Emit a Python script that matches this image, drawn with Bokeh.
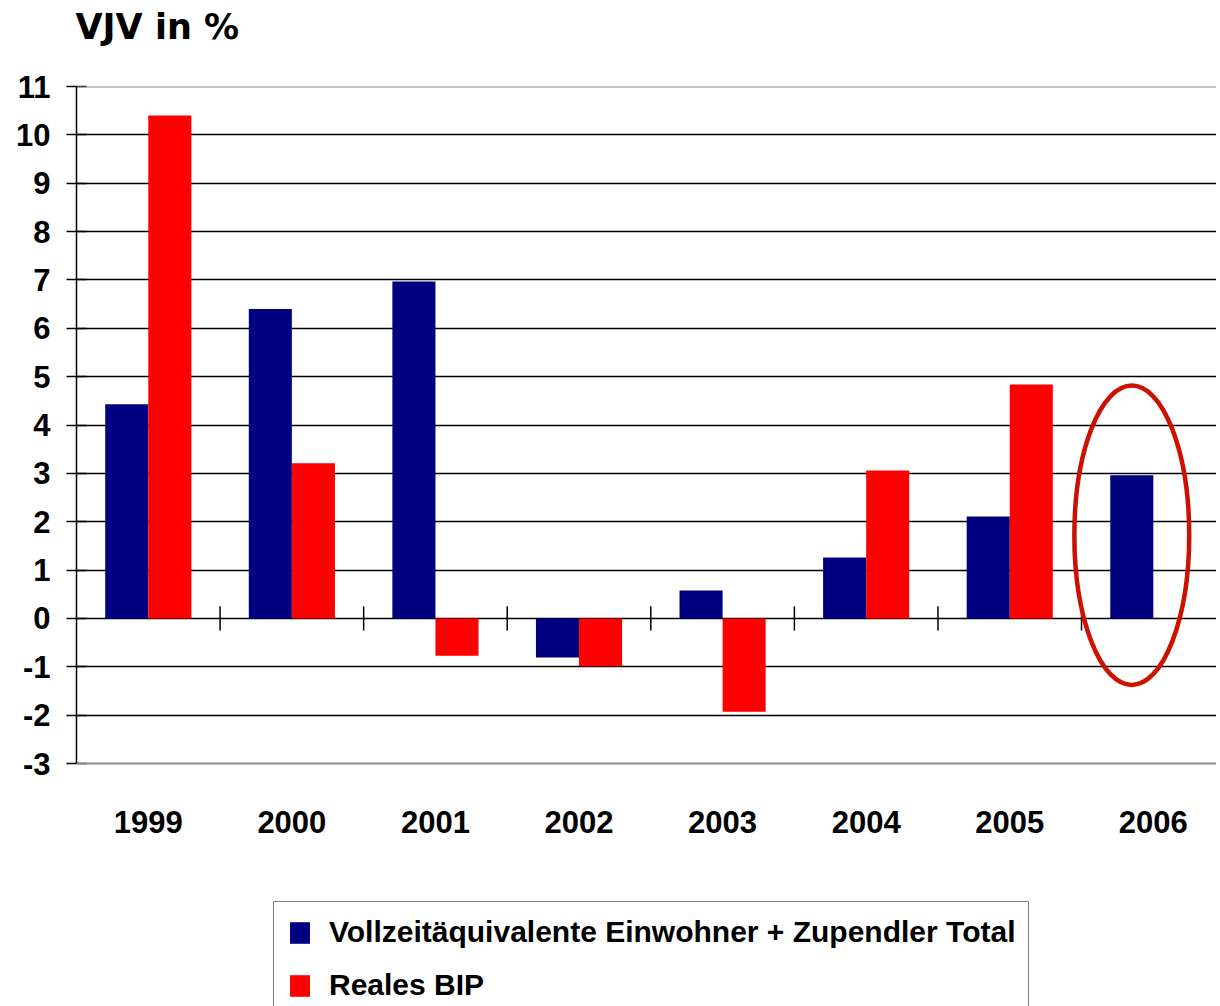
from bokeh.plotting import figure
from bokeh.models import (Range1d, FixedTicker, Span, Legend, LegendItem, ColumnDataSource,
                          LinearAxis, Title)
from bokeh.core.properties import value
from bokeh.embed import file_html
from bokeh.resources import INLINE

# ---- data ----
years = ["1999", "2000", "2001", "2002", "2003", "2004", "2005", "2006"]
vollzeit = [4.43, 6.40, 6.97, -0.81, 0.58, 1.26, 2.11, 2.96]
bip = [10.40, 3.21, -0.77, -0.99, -1.93, 3.06, 4.84, float("nan")]
y_ticks = list(range(-3, 12))
y_tick_labels = [str(t) for t in y_ticks]
title_text = "VJV in %"
series_names = ["Vollzeitäquivalente Einwohner + Zupendler Total", "Reales BIP"]
highlight_year = "2006"

BLUE = "#000080"
RED = "#FF0000"
FONT = "Liberation Sans"

# layout constants (pixels / data offsets, not data)
PX_PER_UNIT = 677 / 14.0
FRAME_H = 920
Y_BOTTOM = y_ticks[0] - (FRAME_H - 677) / PX_PER_UNIT
CAT_LABEL_Y = -4.2
BAR_W = 0.3

idx = list(range(len(years)))
src = ColumnDataSource(dict(
    x_blue=[i - BAR_W / 2 for i in idx],
    x_red=[i + BAR_W / 2 for i in idx],
    blue=vollzeit,
    red=bip,
))

p = figure(frame_width=1140, frame_height=FRAME_H, output_backend="svg", toolbar_location=None,
           x_range=Range1d(-0.5, 7.44), y_range=Range1d(Y_BOTTOM, y_ticks[-1]),
           x_axis_location=None,
           min_border_left=76, min_border_right=0, min_border_top=86,
           min_border_bottom=0)

# invisible spacer between title and plot area (added first -> nearest the plot)
spacer = LinearAxis(ticker=FixedTicker(ticks=[0]), axis_line_color=None,
                    major_tick_line_color=None, minor_tick_line_color=None,
                    major_tick_out=38, major_tick_in=0, minor_tick_out=0,
                    major_label_standoff=0, major_label_text_font_size="1px",
                    major_label_overrides={0: ""})
p.add_layout(spacer, "above")

title = Title(text=title_text, text_font="DejaVu Sans", text_font_style="bold",
              text_font_size="35px", align="left", offset=-1, standoff=4,
              text_color="black")
p.add_layout(title, "above")

p.outline_line_color = None
p.background_fill_color = "white"
p.border_fill_color = "white"

rb = p.vbar(x="x_blue", top="blue", bottom=0, width=BAR_W, source=src,
            fill_color=BLUE, line_color=None)
rr = p.vbar(x="x_red", top="red", bottom=0, width=BAR_W, source=src,
            fill_color=RED, line_color=None)

# grid
p.xgrid.visible = False
p.ygrid.ticker = FixedTicker(ticks=[t for t in y_ticks if y_ticks[0] < t < y_ticks[-1]])
p.ygrid.grid_line_color = "black"
p.ygrid.grid_line_width = 1.6
for yv in (y_ticks[0], y_ticks[-1]):
    p.add_layout(Span(location=yv, dimension="width", line_color="#8c8c8c", line_width=2))

# y axis
p.yaxis.ticker = FixedTicker(ticks=y_ticks)
p.yaxis.bounds = (y_ticks[0], y_ticks[-1])
p.yaxis.major_label_overrides = {t: s for t, s in zip(y_ticks, y_tick_labels)}
p.yaxis.axis_line_color = "black"
p.yaxis.axis_line_width = 1.5
p.yaxis.major_tick_in = 10
p.yaxis.major_tick_out = 10
p.yaxis.major_tick_line_width = 1.5
p.yaxis.minor_tick_line_color = None
p.yaxis.major_label_text_font = FONT
p.yaxis.major_label_text_font_style = "bold"
p.yaxis.major_label_text_font_size = "31px"
p.yaxis.major_label_text_color = "black"
p.yaxis.major_label_standoff = 16

# category labels
p.text(x=idx, y=[CAT_LABEL_Y] * len(idx), text=years,
       text_font=value(FONT), text_font_style="bold", text_font_size="31px",
       text_color="black", text_align="center", text_baseline="middle")

# category separator ticks crossing the zero line
sep = [i + 0.5 for i in idx[:-1]]
p.segment(x0=sep, x1=sep, y0=[-0.25] * len(sep), y1=[0.25] * len(sep),
          line_color="black", line_width=1.5)

# highlight ellipse around the 2006 bar
hi = years.index(highlight_year)
p.ellipse(x=[hi - BAR_W / 2], y=[1.72], width=0.80, height=6.19, fill_color=None,
          line_color="#CC1100", line_width=4.5)

legend = Legend(items=[LegendItem(label=series_names[0], renderers=[rb]),
                       LegendItem(label=series_names[1], renderers=[rr])],
                location=(197, -10))
legend.label_text_font = FONT
legend.label_text_font_style = "bold"
legend.label_text_font_size = "30px"
legend.label_text_color = "black"
legend.glyph_width = 25
legend.glyph_height = 27
legend.label_standoff = 17
legend.padding = 13
legend.spacing = 19
legend.border_line_color = "black"
legend.border_line_width = 1.5
legend.background_fill_alpha = 1
legend.margin = 0
p.add_layout(legend, "center")

html = file_html(p, INLINE)
open("out.html", "w").write(html)
